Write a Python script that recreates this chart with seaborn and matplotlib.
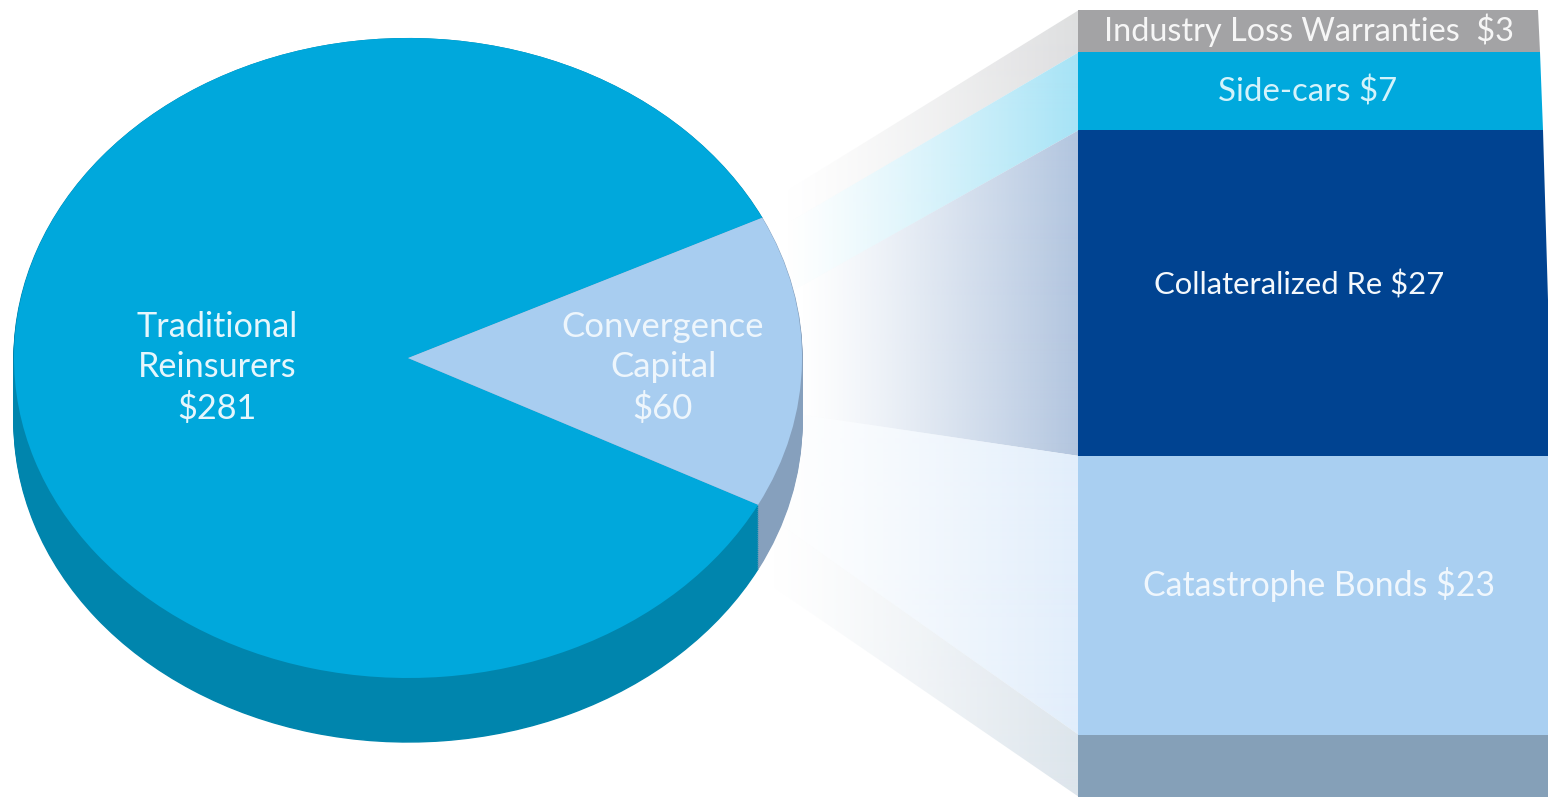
import numpy as np
import matplotlib.pyplot as plt
from matplotlib.patches import Polygon
import seaborn as sns

W, H = 1548, 797

# pie: the sweep is what is drawn in the picture (degrees), not the $ share
pie_labels = ["Traditional\nReinsurers\n$281", "Convergence\nCapital\n$60"]
pie_sweep = [306.7, 53.3]
pie_colors = ["#00a8dc", "#a8cdf0"]
pie_side_colors = ["#0085ad", "#86a0bd"]

# stacked column, bottom to top, heights as drawn
bar_labels = ["Catastrophe Bonds $23", "Collateralized Re $27", "Side-cars $7", "Industry Loss Warranties  $3"]
bar_heights = [23.1, 27.0, 6.45, 3.45]
bar_colors = ["#a9cff1", "#004391", "#00a9dd", "#a3a3a5"]
base_height = 5.13
base_color = "#85a0b8"

sns.set_theme(style="white")
plt.rcParams['font.family'] = ['Lato', 'DejaVu Sans']

fig = plt.figure(figsize=(W / 100, H / 100), dpi=100, facecolor="white")


def axes_px(x0, y0, x1, y1):
    # axes given by its pixel box, y counted from the top
    return fig.add_axes([x0 / W, 1 - y1 / H, (x1 - x0) / W, (y1 - y0) / H])


# --- connectors between pie and column ---
ax_bg = axes_px(0, 0, W, H)
ax_bg.set_xlim(0, W)
ax_bg.set_ylim(H, 0)
ax_bg.axis("off")


def fade_band(ax, y_left0, y_left1, y_right0, y_right1, color, x_start=785):
    rgb = plt.matplotlib.colors.to_rgb(color)
    ramp = np.clip((np.arange(757, 1079) - x_start) / (1078 - x_start), 0, 1) ** 1.2
    img = np.ones((2, ramp.size, 4))
    img[..., :3] = rgb
    img[..., 3] = ramp
    im = ax.imshow(img, extent=(757, 1079, H, 0), aspect="auto", interpolation="bilinear")
    poly = Polygon([(757, y_left0), (1079, y_right0), (1079, y_right1), (757, y_left1)],
                   transform=ax.transData, fc="none", ec="none")
    ax.add_patch(poly)
    im.set_clip_path(poly)


fade_band(ax_bg, 209, 241, 10, 52, "#dedfe0")
fade_band(ax_bg, 241, 311, 52, 130, "#a6e3f6")
fade_band(ax_bg, 311, 408, 130, 456, "#b2c5df", x_start=800)
fade_band(ax_bg, 408, 508, 456, 735, "#e2eefb", x_start=770)
fade_band(ax_bg, 508, 576, 735, 797, "#dde5ec", x_start=770)
ax_bg.set_xlim(0, W)
ax_bg.set_ylim(H, 0)

# --- 3D pie ---
ax_pie = axes_px(0, 0, W, H)
depth = 64 / 320
for d in np.arange(depth, 0, -0.006):
    wedges, _ = ax_pie.pie(pie_sweep, colors=pie_side_colors, startangle=26, center=(0, -d), radius=1)
    for w in wedges:
        w.set_edgecolor(w.get_facecolor())
        w.set_linewidth(1)
wedges, _ = ax_pie.pie(pie_sweep, colors=pie_colors, startangle=26, center=(0, 0), radius=1)
for w in wedges:
    w.set_edgecolor("none")
ax_pie.set_aspect("auto")
ax_pie.set_xlim(-408 / 394, (W - 408) / 394)
ax_pie.set_ylim(-(H - 358) / 320, 358 / 320)
ax_pie.axis("off")

# --- stacked column ---
ax_bar = axes_px(1078, 10, W, H)
bottoms = np.concatenate([[0], np.cumsum(bar_heights)[:-1]])
sns.barplot(x=["col"], y=[base_height], bottom=-base_height, color=base_color,
            width=1, saturation=1, linewidth=0, ax=ax_bar)
for h, b, c in zip(bar_heights, bottoms, bar_colors):
    sns.barplot(x=["col"], y=[h], bottom=b, color=c, width=1, saturation=1, linewidth=0, ax=ax_bar)
ax_bar.set_xlim(-0.5, 0.5)
ax_bar.set_ylim(-base_height, sum(bar_heights))
ax_bar.axis("off")

# the column narrows a little towards the top right
ax_top = axes_px(0, 0, W, H)
ax_top.set_xlim(0, W)
ax_top.set_ylim(H, 0)
ax_top.axis("off")
ax_top.add_patch(Polygon([(1538, 0), (1538, 10), (1540, 52), (1543, 130), (1548, 300), (1548, 0)],
                         fc="white", ec="none"))

# --- text ---
for txt, x, c, fs in zip(pie_labels, [217, 663], ["#e6f6fc", "#eef6fc"], [24.7, 25]):
    ax_top.text(x, 368, txt, ha="center", va="center", fontsize=fs, color=c, linespacing=1.31)
bar_text_x = [1319, 1299, 1308, 1309]
bar_text_y = [585, 285, 92, 30]
bar_text_c = ["#f0f7fd", "#f4f8fc", "#d4f3fb", "#f6f6f6"]
bar_text_fs = [24.3, 22.3, 23.8, 23.3]
for txt, x, y, c, fs in zip(bar_labels, bar_text_x, bar_text_y, bar_text_c, bar_text_fs):
    ax_top.text(x, y, txt, ha="center", va="center", fontsize=fs, color=c)

fig.savefig("out.png", dpi=100)
